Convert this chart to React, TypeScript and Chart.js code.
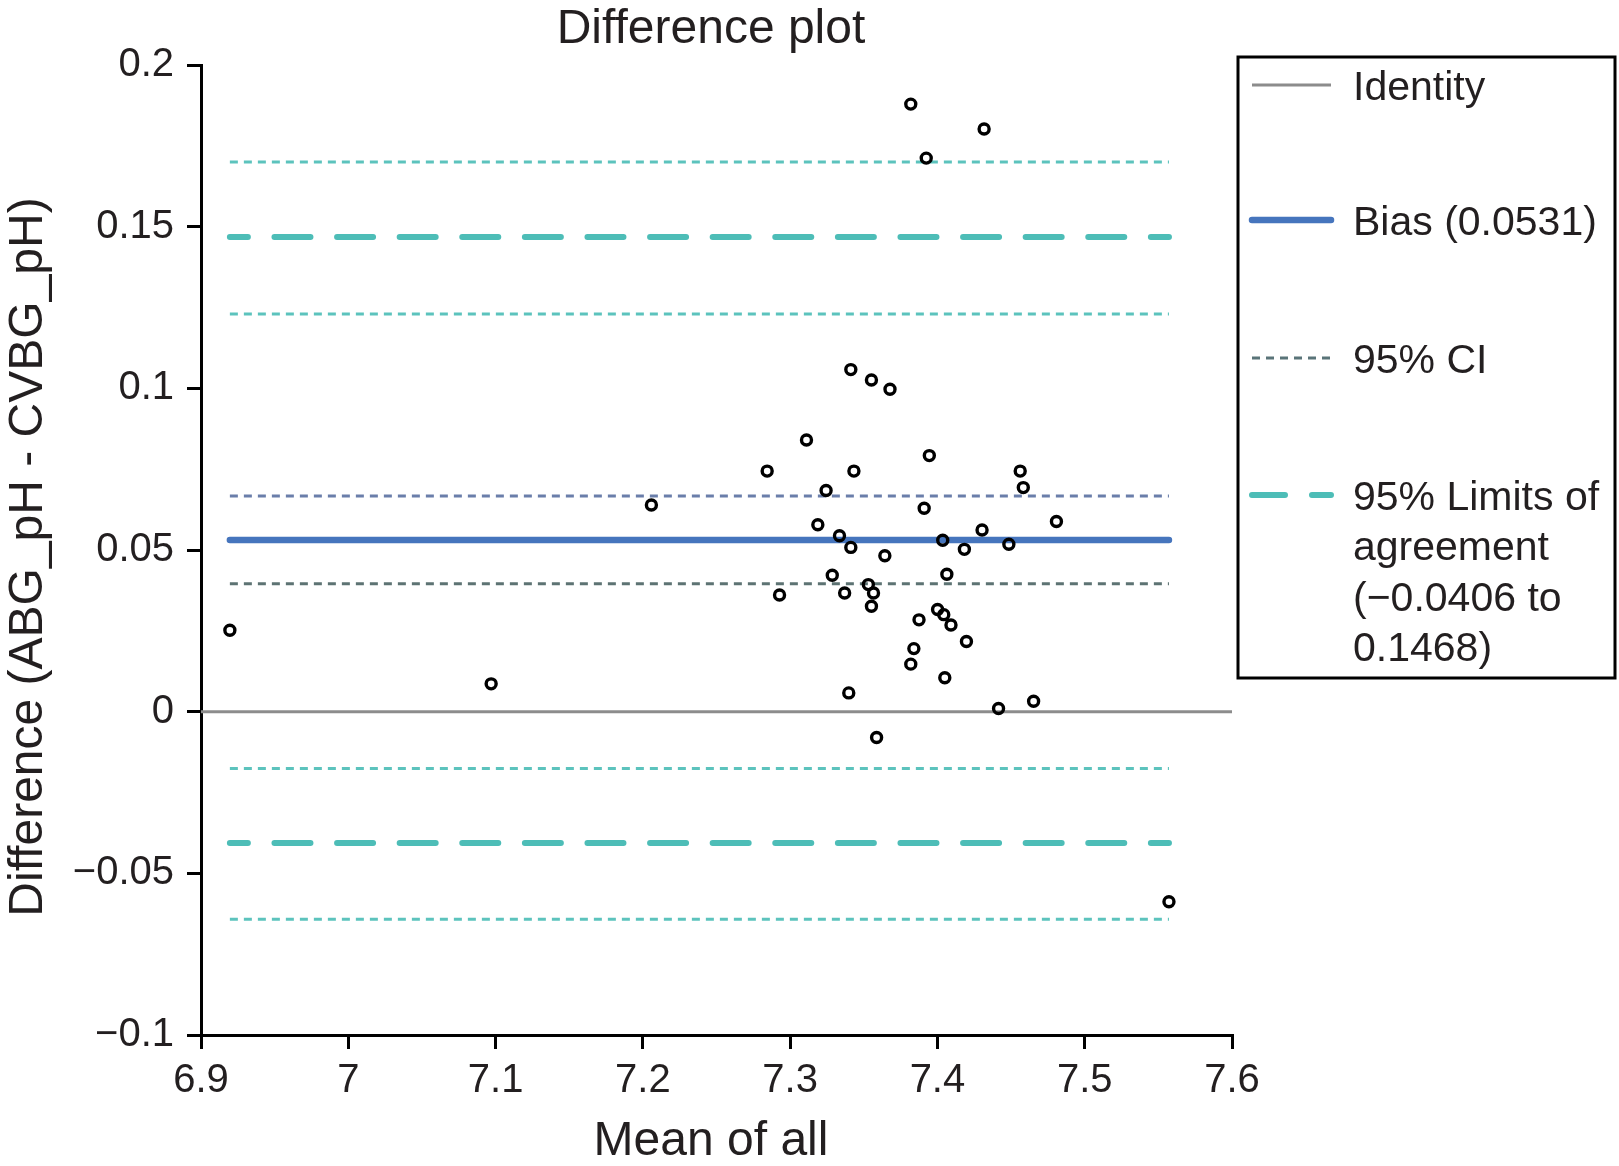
import React, { useEffect, useRef } from "react";
import { Chart, registerables } from "chart.js";

Chart.register(...registerables);

const FONT = "'Liberation Sans', Arial, Helvetica, sans-serif";
const TEXT = "#231f20";

const meanOfAll = [
  6.9196, 7.097, 7.2058, 7.2844, 7.2928, 7.3111, 7.3188, 7.3244, 7.3286, 7.3335,
  7.337, 7.3398, 7.3412, 7.3412, 7.3433, 7.3531, 7.3552, 7.3552, 7.3566, 7.3587,
  7.3643, 7.3678, 7.3819, 7.3819, 7.384, 7.3875, 7.391, 7.3924, 7.3945, 7.4001,
  7.4036, 7.4043, 7.405, 7.4064, 7.4092, 7.4183, 7.4197, 7.4303, 7.4317, 7.4415,
  7.4485, 7.4562, 7.4583, 7.4653, 7.4808, 7.5572,
];
const difference = [
  0.0252, 0.0086, 0.0639, 0.0744, 0.0361, 0.084, 0.0578, 0.0684, 0.0422, 0.0544,
  0.0367, 0.0058, 0.1058, 0.0508, 0.0744, 0.0393, 0.1026, 0.0326, 0.0367, -0.008,
  0.0482, 0.0997, 0.1879, 0.0147, 0.0195, 0.0284, 0.0629, 0.1712, 0.0792, 0.0316,
  0.053, 0.03, 0.0105, 0.0425, 0.0268, 0.0502, 0.0217, 0.0562, 0.1802, 0.001,
  0.0518, 0.0744, 0.0693, 0.0032, 0.0588, -0.0588,
];

const bias = 0.0531;
const biasCI = [0.0396, 0.0667];
const limitsOfAgreement = [-0.0406, 0.1468];
const lowerLimitCI = [-0.0642, -0.0176];
const upperLimitCI = [0.123, 0.17];

const xRange = [6.9, 7.6];
const yRange = [-0.1, 0.2];
const xTickValues = [6.9, 7.0, 7.1, 7.2, 7.3, 7.4, 7.5, 7.6];
const xTickLabels = ["6.9", "7", "7.1", "7.2", "7.3", "7.4", "7.5", "7.6"];
const yTickValues = [-0.1, -0.05, 0, 0.05, 0.1, 0.15, 0.2];
const yTickLabels = ["\u22120.1", "\u22120.05", "0", "0.05", "0.1", "0.15", "0.2"];

const chartTitle = "Difference plot";
const xTitle = "Mean of all";
const yTitle = "Difference (ABG_pH - CVBG_pH)";
const legendIdentity = ["Identity"];
const legendBias = ["Bias (0.0531)"];
const legendCI = ["95% CI"];
const legendLoA = ["95% Limits of", "agreement", "(\u22120.0406 to", "0.1468)"];

const COL_IDENTITY = "#8c8c8c";
const COL_BIAS = "#4675bd";
const COL_LOA = "#4dbdb7";
const COL_LOA_CI = "#5cc3bd";
const COL_BIAS_CI_UP = "#6a7eaa";
const COL_BIAS_CI_LOW = "#5d7373";
const COL_LEGEND_CI = "#5a7479";

const LOA_DASH = [36, 26.6];
const CI_DASH = [8, 6];

const decorPlugin = {
  id: "decor",
  afterDraw(chart: any) {
    const ctx = chart.ctx as CanvasRenderingContext2D;
    ctx.save();
    ctx.fillStyle = TEXT;
    ctx.textBaseline = "alphabetic";

    // chart title
    ctx.font = `48px ${FONT}`;
    ctx.textAlign = "center";
    ctx.fillText(chartTitle, 711, 43);

    // x axis title
    ctx.fillText(xTitle, 711, 1155);

    // y axis title
    ctx.save();
    ctx.translate(42, 557);
    ctx.rotate(-Math.PI / 2);
    ctx.fillText(yTitle, 0, 0);
    ctx.restore();

    // legend box
    const bx = 1238, by = 57, bw = 377, bh = 621;
    ctx.strokeStyle = "#000";
    ctx.lineWidth = 3;
    ctx.strokeRect(bx, by, bw, bh);

    const sx0 = 1252, sx1 = 1331, tx = 1353;
    const fs = 41;
    ctx.font = `${fs}px ${FONT}`;
    ctx.textAlign = "left";
    const drawText = (lines: string[], cy: number) => {
      lines.forEach((t, i) => ctx.fillText(t, tx, cy + i * 50.6 + fs * 0.358));
    };
    const drawSample = (cy: number, color: string, width: number, dash: number[], cap: CanvasLineCap) => {
      ctx.beginPath();
      ctx.strokeStyle = color;
      ctx.lineWidth = width;
      ctx.setLineDash(dash);
      ctx.lineCap = cap;
      ctx.moveTo(sx0, cy);
      ctx.lineTo(sx1, cy);
      ctx.stroke();
      ctx.setLineDash([]);
    };
    drawSample(85, COL_IDENTITY, 3, [], "butt");
    drawText(legendIdentity, 85);
    drawSample(220, COL_BIAS, 6.5, [], "round");
    drawText(legendBias, 220);
    drawSample(358, COL_LEGEND_CI, 3, CI_DASH, "butt");
    drawText(legendCI, 358);
    drawSample(495, COL_LOA, 6, [33, 27], "round");
    drawText(legendLoA, 495);
    ctx.restore();
  },
};

export default function App() {
  const ref = useRef<HTMLCanvasElement>(null);
  useEffect(() => {
    document.body.style.margin = "0";
    const canvas = ref.current;
    if (!canvas) return;
    const xMin = Math.min(...meanOfAll);
    const xMax = Math.max(...meanOfAll);
    const hline = (y: number) => [
      { x: xMin, y },
      { x: xMax, y },
    ];
    const lineDs = (
      label: string,
      y: number,
      color: string,
      width: number,
      dash: number[],
      order: number,
      cap: string = "butt",
      dashOffset = 0
    ) => ({
      type: "line" as const,
      label,
      data: hline(y),
      borderColor: color,
      borderWidth: width,
      borderDash: dash,
      borderDashOffset: dashOffset,
      borderCapStyle: cap,
      pointRadius: 0,
      fill: false,
      order,
    });

    const chart = new Chart(canvas, {
      type: "scatter",
      data: {
        datasets: [
          {
            label: "Data",
            data: meanOfAll.map((x, i) => ({ x, y: difference[i] })),
            pointRadius: 5,
            pointBorderWidth: 3.4,
            borderColor: "#000",
            backgroundColor: "rgba(255,255,255,0)",
            pointHoverRadius: 5,
            order: 0,
          } as any,
          {
            type: "line",
            label: "Identity",
            data: [
              { x: xRange[0], y: 0 },
              { x: xRange[1], y: 0 },
            ],
            borderColor: COL_IDENTITY,
            borderWidth: 3,
            pointRadius: 0,
            order: 9,
          } as any,
          lineDs("Bias", bias, COL_BIAS, 6.5, [], 1, "round"),
          lineDs("Bias CI low", biasCI[0], COL_BIAS_CI_LOW, 3, CI_DASH, 3),
          lineDs("Bias CI high", biasCI[1], COL_BIAS_CI_UP, 3, CI_DASH, 3),
          lineDs("LoA low", limitsOfAgreement[0], COL_LOA, 6, LOA_DASH, 2, "round", 18),
          lineDs("LoA high", limitsOfAgreement[1], COL_LOA, 6, LOA_DASH, 2, "round", 18),
          lineDs("LoA low CI a", lowerLimitCI[0], COL_LOA_CI, 3, CI_DASH, 4),
          lineDs("LoA low CI b", lowerLimitCI[1], COL_LOA_CI, 3, CI_DASH, 4),
          lineDs("LoA high CI a", upperLimitCI[0], COL_LOA_CI, 3, CI_DASH, 4),
          lineDs("LoA high CI b", upperLimitCI[1], COL_LOA_CI, 3, CI_DASH, 4),
        ] as any,
      },
      options: {
        animation: false,
        responsive: false,
        devicePixelRatio: 1,
        layout: { padding: { left: 0, right: 387, top: 65, bottom: 0 } },
        plugins: {
          legend: { display: false },
          tooltip: { enabled: false },
          title: { display: false },
        },
        scales: {
          x: {
            type: "linear",
            min: xRange[0],
            max: xRange[1],
            afterBuildTicks: (s: any) => {
              s.ticks = xTickValues.map((v) => ({ value: v }));
            },
            afterFit: (s: any) => {
              s.height = 131;
            },
            ticks: {
              autoSkip: false,
              maxRotation: 0,
              padding: 8,
              color: TEXT,
              font: { size: 40, family: FONT },
              callback: (_v: any, i: number) => xTickLabels[i],
            },
            grid: { drawOnChartArea: false, drawTicks: true, tickLength: 14, color: "#000", lineWidth: 3 },
            border: { display: true, color: "#000", width: 3 },
            title: { display: false, text: xTitle },
          },
          y: {
            type: "linear",
            min: yRange[0],
            max: yRange[1],
            afterBuildTicks: (s: any) => {
              s.ticks = yTickValues.map((v) => ({ value: v }));
            },
            afterFit: (s: any) => {
              s.width = 201;
            },
            ticks: {
              autoSkip: false,
              padding: 13,
              color: TEXT,
              font: { size: 40, family: FONT },
              callback: (_v: any, i: number) => yTickLabels[i],
            },
            grid: { drawOnChartArea: false, drawTicks: true, tickLength: 14, color: "#000", lineWidth: 3 },
            border: { display: true, color: "#000", width: 3 },
            title: { display: false, text: yTitle },
          },
        },
      } as any,
      plugins: [decorPlugin],
    });
    return () => chart.destroy();
  }, []);
  return (
    <div style={{ width: 1619, height: 1166, background: "#fff" }}>
      <canvas ref={ref} width={1619} height={1166} style={{ display: "block", width: 1619, height: 1166 }} />
    </div>
  );
}
